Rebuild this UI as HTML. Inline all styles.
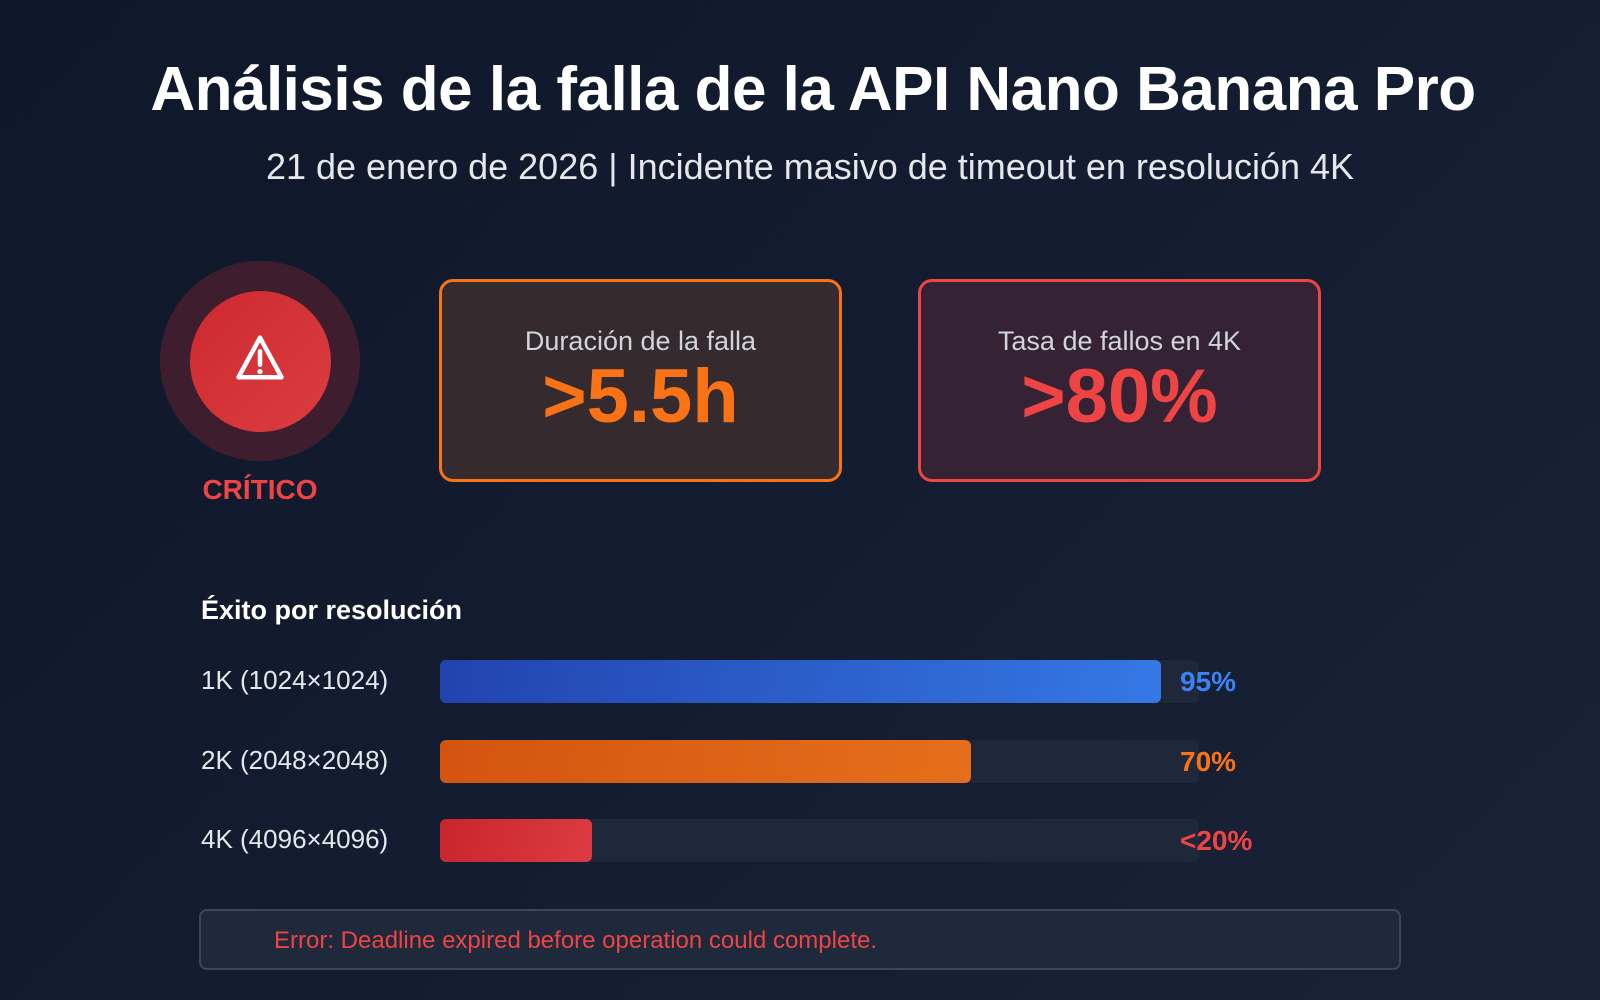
<!DOCTYPE html>
<html><head><meta charset="utf-8"><style>
*{margin:0;padding:0;box-sizing:border-box}
body{width:1600px;height:1000px;overflow:hidden;font-family:"Liberation Sans",sans-serif;background:linear-gradient(135deg,#0f172a 0%,#131c30 50%,#1a2336 100%);color:#fff;position:relative}
.abs{position:absolute}
#title{left:13px;width:1600px;top:54px;text-align:center;font-size:62px;font-weight:bold;letter-spacing:-0.5px}
#sub{left:10px;width:1600px;top:146px;text-align:center;font-size:36px;color:#e5e7eb}
.card{border-radius:14px;text-align:center}
.lbl{font-size:27px;color:#d1d5db;margin-top:44px}
.val{font-size:76px;font-weight:bold;line-height:1;margin-top:2px}
.rlabel{left:201px;font-size:26px;color:#e5e7eb}
.pct{left:1180px;font-size:28px;font-weight:bold}
</style></head><body>
<div id="title" class="abs">Análisis de la falla de la API Nano Banana Pro</div>
<div id="sub" class="abs">21 de enero de 2026 | Incidente masivo de timeout en resolución 4K</div>

<div class="abs" style="left:160px;top:261px;width:200px;height:200px;border-radius:50%;background:#3e1e2e"></div>
<div class="abs" style="left:190px;top:291px;width:141px;height:141px;border-radius:50%;background:linear-gradient(135deg,#cc2a2f,#dc3c40)"></div>
<svg class="abs" style="left:234px;top:333px" width="52" height="50" viewBox="0 0 46 44"><path d="M23 4 L42 39 L4 39 Z" fill="none" stroke="#fff" stroke-width="4" stroke-linejoin="round"/><line x1="23" y1="16" x2="23" y2="28" stroke="#fff" stroke-width="4" stroke-linecap="round"/><circle cx="23" cy="34" r="2.3" fill="#fff"/></svg>
<div class="abs" style="left:160px;width:200px;top:474px;text-align:center;font-size:28px;font-weight:bold;color:#ef4444">CRÍTICO</div>

<div class="abs card" style="left:439px;top:279px;width:403px;height:203px;border:3px solid #f97316;background:#352a2e">
<div class="lbl">Duración de la falla</div>
<div class="val" style="color:#f97316">&gt;5.5h</div></div>
<div class="abs card" style="left:918px;top:279px;width:403px;height:203px;border:3px solid #ef4444;background:#352234">
<div class="lbl">Tasa de fallos en 4K</div>
<div class="val" style="color:#ef4444">&gt;80%</div></div>

<div class="abs" style="left:201px;top:595px;font-size:27px;font-weight:bold">Éxito por resolución</div>
<div id="bars"></div>

<div class="abs" style="left:199px;top:909px;width:1202px;height:61px;border:2px solid #3a475a;border-radius:8px;background:#1e293b">
<div style="position:absolute;left:73px;top:16px;font-size:24px;color:#ef4444">Error: Deadline expired before operation could complete.</div></div>

<script>
const categories=["1K (1024×1024)","2K (2048×2048)","4K (4096×4096)"];
const values=[95,70,20];
const valueLabels=["95%","70%","<20%"];
const colors=[["#2243ae","#3578e5","#3b82f6"],["#d4540f","#e56f1c","#f97316"],["#c9262c","#dc3b42","#ef4444"]];
const trackX=440,trackW=759,y0=660,step=79.5,barH=43;
function xScale(v){return v/100*trackW;}
const root=document.getElementById('bars');
categories.forEach((c,i)=>{
 const y=Math.round(y0+i*step);
 const l=document.createElement('div');l.className='abs rlabel';l.style.top=(y+5)+'px';l.textContent=c;
 
 
 root.appendChild(l);
 const t=document.createElement('div');t.className='abs';
 t.style.cssText=`left:${trackX}px;top:${y}px;width:${trackW}px;height:${barH}px;background:#1e283a;border-radius:6px`;
 
 
 root.appendChild(t);
 const b=document.createElement('div');b.className='abs';
 b.style.cssText=`left:${trackX}px;top:${y}px;width:${xScale(values[i])}px;height:${barH}px;background:linear-gradient(100deg,${colors[i][0]},${colors[i][1]});border-radius:6px`;
 
 
 root.appendChild(b);
 const p=document.createElement('div');p.className='abs pct';p.style.top=(y+6)+'px';p.style.color=colors[i][2];p.textContent=valueLabels[i];
 
 
 root.appendChild(p);
});
</script>
</body></html>
